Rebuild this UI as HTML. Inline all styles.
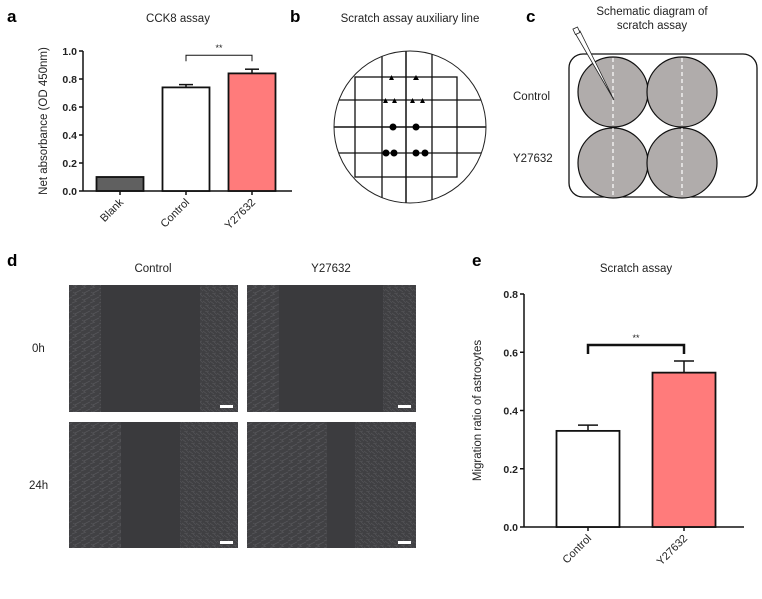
<!DOCTYPE html>
<html><head><meta charset="utf-8"><style>
body{margin:0;background:#fff;width:762px;height:594px;overflow:hidden;font-family:"Liberation Sans",sans-serif}
svg text{font-family:"Liberation Sans",sans-serif}
</style></head><body>
<svg id="fig" width="762" height="594" viewBox="0 0 762 594" xmlns="http://www.w3.org/2000/svg">
<defs>
<pattern id="cells" width="9" height="7" patternUnits="userSpaceOnUse">
<rect width="9" height="7" fill="#414144"/>
<path d="M0 2 L5 0 M3 6 L9 3 M1 5 L4 7" stroke="#56565a" stroke-width="0.7"/>
</pattern>
<pattern id="cells2" width="7" height="6" patternUnits="userSpaceOnUse">
<rect width="7" height="6" fill="#404043"/>
<path d="M0 1 L4 4 M4 0 L7 3 M2 6 L6 5" stroke="#545457" stroke-width="0.7"/>
</pattern>
<clipPath id="circ"><circle cx="410" cy="127" r="76"/></clipPath>
</defs>

<text x="7" y="22" font-size="17" font-weight="bold">a</text>
<text x="290" y="22" font-size="17" font-weight="bold">b</text>
<text x="526" y="22" font-size="17" font-weight="bold">c</text>
<text x="7" y="266" font-size="17" font-weight="bold">d</text>
<text x="472" y="266" font-size="17" font-weight="bold">e</text>

<g id="chartA"></g>
<g id="chartE"></g>

<g>
<text x="410" y="22" font-size="11.5" text-anchor="middle" fill="#222">Scratch assay auxiliary line</text>
<g clip-path="url(#circ)" stroke="#111">
<line x1="330" y1="100" x2="490" y2="100" stroke-width="1.3"/>
<line x1="330" y1="127" x2="490" y2="127" stroke-width="1.5"/>
<line x1="330" y1="153" x2="490" y2="153" stroke-width="1.3"/>
<line x1="382" y1="40" x2="382" y2="210" stroke-width="1.3"/>
<line x1="406" y1="40" x2="406" y2="210" stroke-width="1.5"/>
<line x1="432" y1="40" x2="432" y2="210" stroke-width="1.3"/>
</g>
<rect x="355" y="77" width="102" height="100" fill="none" stroke="#111" stroke-width="1.3"/>
<circle cx="410" cy="127" r="76" fill="none" stroke="#222" stroke-width="1"/>
<g fill="#000">
<polygon points="389,80 394,80 391.5,75"/><polygon points="413,80 419,80 416,75"/>
<polygon points="383,103 388,103 385.5,98"/><polygon points="392,103 397,103 394.5,98"/>
<polygon points="410,103 415,103 412.5,98"/><polygon points="420,103 425,103 422.5,98"/>
<circle cx="393" cy="127" r="3.5"/><circle cx="416" cy="127" r="3.5"/>
<circle cx="386" cy="153" r="3.5"/><circle cx="394" cy="153" r="3.5"/>
<circle cx="416" cy="153" r="3.5"/><circle cx="425" cy="153" r="3.5"/>
</g>
</g>

<g>
<text x="652" y="15" font-size="11.5" text-anchor="middle" fill="#222">Schematic diagram of</text>
<text x="652" y="29" font-size="11.5" text-anchor="middle" fill="#222">scratch assay</text>
<text x="513" y="100" font-size="11.5" fill="#222">Control</text>
<text x="513" y="162" font-size="11.5" fill="#222">Y27632</text>
<rect x="569" y="54" width="188" height="143" rx="14" fill="#fff" stroke="#111" stroke-width="1.3"/>
<g fill="#b0acab" stroke="#111" stroke-width="1.2">
<circle cx="613" cy="92" r="35"/><circle cx="682" cy="92" r="35"/>
<circle cx="613" cy="163" r="35"/><circle cx="682" cy="163" r="35"/>
</g>
<g stroke="#fff" stroke-width="1.2" stroke-dasharray="4,3">
<line x1="613" y1="58" x2="613" y2="197"/><line x1="682" y1="58" x2="682" y2="197"/>
</g>
<polygon points="575,33 580,31 614,100" fill="#fff" stroke="#222" stroke-width="0.8"/>
<rect x="574" y="28" width="5" height="6" fill="#fff" stroke="#222" stroke-width="0.8" transform="rotate(-25 576 31)"/>
</g>

<g>
<text x="153" y="272" font-size="11.5" text-anchor="middle" fill="#222">Control</text>
<text x="331" y="272" font-size="11.5" text-anchor="middle" fill="#222">Y27632</text>
<text x="32" y="352" font-size="11.5" fill="#222">0h</text>
<text x="29" y="489" font-size="11.5" fill="#222">24h</text>
<g>
<rect x="69" y="285" width="169" height="127" fill="#3a3a3d"/>
<rect x="69" y="285" width="32" height="127" fill="url(#cells)"/>
<rect x="200" y="285" width="38" height="127" fill="url(#cells2)"/>
<rect x="220" y="405" width="13" height="3" fill="#fff"/></g>
<g>
<rect x="247" y="285" width="169" height="127" fill="#3a3a3d"/>
<rect x="247" y="285" width="32" height="127" fill="url(#cells)"/>
<rect x="383" y="285" width="33" height="127" fill="url(#cells2)"/>
<rect x="398" y="405" width="13" height="3" fill="#fff"/></g>
<g>
<rect x="69" y="422" width="169" height="126" fill="#3a3a3d"/>
<rect x="69" y="422" width="52" height="126" fill="url(#cells)"/>
<rect x="180" y="422" width="58" height="126" fill="url(#cells2)"/>
<rect x="220" y="541" width="13" height="3" fill="#fff"/></g>
<g>
<rect x="247" y="422" width="169" height="126" fill="#3c3c3f"/>
<rect x="247" y="422" width="80" height="126" fill="url(#cells)"/>
<rect x="355" y="422" width="61" height="126" fill="url(#cells2)"/>
<rect x="398" y="541" width="13" height="3" fill="#fff"/></g>
</g>
</svg>
<script>
const NS="http://www.w3.org/2000/svg";
const catsA=["Blank","Control","Y27632"];
const valsA=[0.10,0.74,0.84];
const errsA=[0,0.02,0.03];
const ticksA=[0,0.2,0.4,0.6,0.8,1.0];
const colorsA=["#606060","#ffffff","#ff7b7b"];
const catsE=["Control","Y27632"];
const valsE=[0.33,0.53];
const errsE=[0.02,0.04];
const ticksE=[0,0.2,0.4,0.6,0.8];
const colorsE=["#ffffff","#ff7b7b"];

function mk(p,tag,attrs){const e=document.createElementNS(NS,tag);for(const k in attrs)e.setAttribute(k,attrs[k]);p.appendChild(e);return e;}

function drawChart(g,cfg){
  const y=v=>cfg.y0-(v-cfg.min)/(cfg.max-cfg.min)*(cfg.y0-cfg.y1);
  const xc=i=>cfg.xStart+cfg.step*(i+0.5);
  const t=mk(g,"text",{x:cfg.titleX,y:cfg.titleY,"font-size":11.5,"text-anchor":"middle",fill:"#222"});t.textContent=cfg.title;
  
  
  const yl=mk(g,"text",{x:0,y:0,"font-size":11.5,"text-anchor":"middle",fill:"#222",transform:`translate(${cfg.ylabX},${(cfg.y0+cfg.y1)/2}) rotate(-90)`});yl.textContent=cfg.ylab;
  
  
  mk(g,"line",{x1:cfg.ax,y1:cfg.y1,x2:cfg.ax,y2:cfg.y0,stroke:"#111","stroke-width":1.5});
  mk(g,"line",{x1:cfg.ax,y1:cfg.y0,x2:cfg.axEnd,y2:cfg.y0,stroke:"#111","stroke-width":1.5});
  cfg.ticks.forEach(v=>{
    mk(g,"line",{x1:cfg.ax-4,y1:y(v),x2:cfg.ax,y2:y(v),stroke:"#111","stroke-width":1.5});
    const tt=mk(g,"text",{x:cfg.ax-6,y:y(v)+4,"font-size":10.5,"font-weight":"bold","text-anchor":"end",fill:"#222"});tt.textContent=v.toFixed(1);
    
    
  });
  cfg.cats.forEach((c,i)=>{
    const cx=xc(i);
    if(cfg.errs[i]>0){
      mk(g,"line",{x1:cx,y1:y(cfg.vals[i]),x2:cx,y2:y(cfg.vals[i]+cfg.errs[i]),stroke:"#111","stroke-width":1.5});
      mk(g,"line",{x1:cx-cfg.cap,y1:y(cfg.vals[i]+cfg.errs[i]),x2:cx+cfg.cap,y2:y(cfg.vals[i]+cfg.errs[i]),stroke:"#111","stroke-width":1.5});
    }
    const b=mk(g,"rect",{x:cx-cfg.bw/2,y:y(cfg.vals[i]),width:cfg.bw,height:y(cfg.min)-y(cfg.vals[i]),fill:cfg.colors[i],stroke:"#111","stroke-width":1.8});
    
    
    mk(g,"line",{x1:cx,y1:cfg.y0,x2:cx,y2:cfg.y0+4,stroke:"#111","stroke-width":1.5});
    const lx=cx+4,ly=cfg.y0+12;
    const l=mk(g,"text",{x:lx,y:ly,"font-size":11,"text-anchor":"end",fill:"#222",transform:`rotate(-45 ${lx} ${ly})`});l.textContent=c;
    
    
  });
  const a=cfg.sig[0],bb=cfg.sig[1],by=y(cfg.sigY);
  mk(g,"path",{d:`M${xc(a)} ${by+cfg.sigDrop} V${by} H${xc(bb)} V${by+cfg.sigDrop}`,fill:"none",stroke:"#111","stroke-width":cfg.sigW});
  const st=mk(g,"text",{x:(xc(a)+xc(bb))/2,y:by-4,"font-size":9,"text-anchor":"middle",fill:"#222"});st.textContent="**";
  
  
}
drawChart(document.getElementById("chartA"),{cats:catsA,vals:valsA,errs:errsA,ticks:ticksA,colors:colorsA,min:0,max:1,y0:191,y1:51,ax:83,axEnd:292,xStart:87,step:66,bw:47,cap:7,title:"CCK8 assay",titleX:178,titleY:22,ylab:"Net absorbance (OD 450nm)",ylabX:47,sig:[1,2],sigY:0.97,sigDrop:6,sigW:1});
drawChart(document.getElementById("chartE"),{cats:catsE,vals:valsE,errs:errsE,ticks:ticksE,colors:colorsE,min:0,max:0.8,y0:527,y1:294,ax:524,axEnd:744,xStart:540,step:96,bw:63,cap:10,title:"Scratch assay",titleX:636,titleY:272,ylab:"Migration ratio of astrocytes",ylabX:481,sig:[0,1],sigY:0.625,sigDrop:9,sigW:2.5});
</script>
</body></html>
